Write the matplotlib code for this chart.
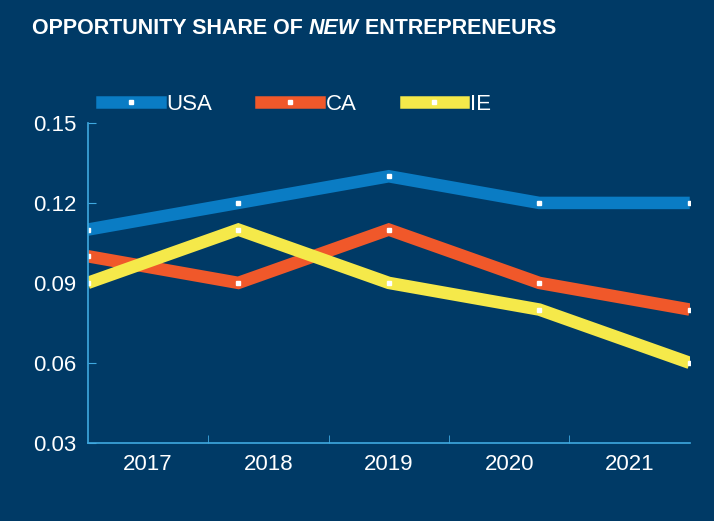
import matplotlib
matplotlib.use("Agg")
import matplotlib.pyplot as plt
from matplotlib.lines import Line2D

years = ["2017", "2018", "2019", "2020", "2021"]
usa = [0.11, 0.12, 0.13, 0.12, 0.12]
ca = [0.10, 0.09, 0.11, 0.09, 0.08]
ie = [0.09, 0.11, 0.09, 0.08, 0.06]
yticks = [0.03, 0.06, 0.09, 0.12, 0.15]

plt.rcParams["font.family"] = ["Liberation Sans", "DejaVu Sans"]

bg = "#003a66"
spine = "#3fa9e0"
colors = {"USA": "#0a7cc4", "CA": "#f0582a", "IE": "#f5e94a"}

fig = plt.figure(figsize=(7.14, 5.21), dpi=100, facecolor=bg)
ax = fig.add_axes([0.123, 0.150, 0.843, 0.614], facecolor=bg)

x = list(range(len(years)))
for name, vals in [("USA", usa), ("CA", ca), ("IE", ie)]:
    ax.plot(x, vals, color=colors[name], lw=9, solid_capstyle="butt", solid_joinstyle="miter")
    ax.plot(x, vals, ls="none", marker="s", ms=2.5, color="white")

ax.set_xlim(0, 4)
ax.set_ylim(0.03, 0.15)
ax.set_yticks(yticks)
ax.set_yticklabels([f"{v:.2f}" for v in yticks])
n = len(years)
ax.set_xticks([(i + 0.5) * 4 / n for i in range(n)])
ax.set_xticklabels(years)
ax.set_xticks([i * 4 / n for i in range(1, n)], minor=True)
ax.tick_params(axis="x", which="major", length=0, labelsize=16, colors="white", pad=8)
ax.tick_params(axis="x", which="minor", length=6, color=spine, direction="in")
ax.tick_params(axis="y", length=6, color=spine, direction="in", labelsize=16, labelcolor="white", pad=8)
for s in ["top", "right"]:
    ax.spines[s].set_visible(False)
for s in ["left", "bottom"]:
    ax.spines[s].set_color(spine)
    ax.spines[s].set_linewidth(1.2)

handles = [Line2D([0], [0], color=c, lw=9, marker="s", ms=2.5, mfc="white", mec="white")
           for c in colors.values()]
fig.legend(handles, list(colors.keys()), loc="center left", bbox_to_anchor=(0.115, 0.80),
           ncol=3, frameon=False, fontsize=16, labelcolor="white", handlelength=2.6,
           columnspacing=2.2, handletextpad=0.3)

fig.canvas.draw()
r = fig.canvas.get_renderer()
xpos = 0.045
for txt, style in [("OPPORTUNITY SHARE OF ", "normal"), ("NEW", "italic"), (" ENTREPRENEURS", "normal")]:
    t = fig.text(xpos, 0.945, txt, color="white", fontsize=15.5, fontweight="bold",
                 style=style, ha="left", va="center")
    bb = t.get_window_extent(r)
    xpos += bb.width / fig.bbox.width

fig.savefig("out.png", dpi=100, facecolor=bg)
